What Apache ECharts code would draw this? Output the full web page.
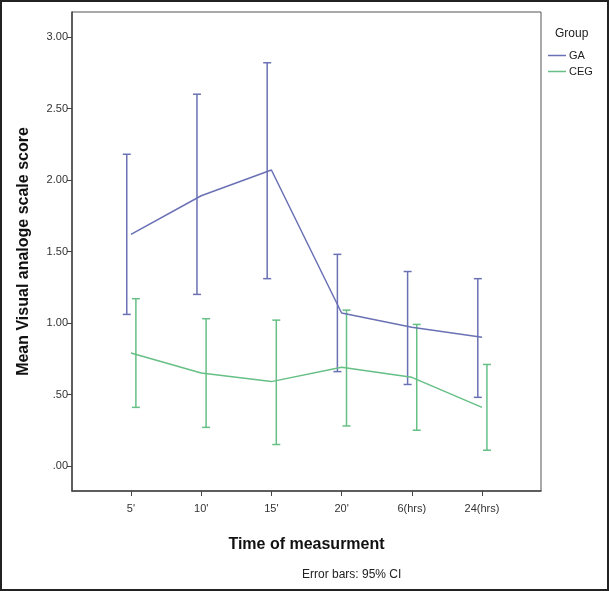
<!DOCTYPE html>
<html>
<head>
<meta charset="utf-8">
<script src="https://cdn.jsdelivr.net/npm/echarts@6/dist/echarts.min.js"></script>
<style>html,body{margin:0;padding:0;background:#fff}#c{width:609px;height:591px}</style>
</head>
<body>
<div id="c"></div>
<script>
const categories = ["5'", "10'", "15'", "20'", "6(hrs)", "24(hrs)"];
const gaMean = [1.62, 1.89, 2.07, 1.07, 0.97, 0.90];
const gaLow  = [1.06, 1.20, 1.31, 0.66, 0.57, 0.48];
const gaHigh = [2.18, 2.60, 2.82, 1.48, 1.36, 1.31];
const cegMean = [0.79, 0.65, 0.59, 0.69, 0.62, 0.41];
const cegLow  = [0.41, 0.27, 0.15, 0.28, 0.25, 0.11];
const cegHigh = [1.17, 1.03, 1.02, 1.09, 0.99, 0.71];
const yTicks = [0, 0.5, 1, 1.5, 2, 2.5, 3];

const GA_COLOR = '#6a71b4';
const CEG_COLOR = '#66bf85';
const FONT = 'Liberation Sans';
const idx = categories.map((c, i) => i);

function errSeries(name, low, high, color, dodge) {
  return {
    name: name, type: 'custom', silent: true, z: 3,
    data: idx.map(i => [i + dodge, low[i], high[i]]),
    renderItem: function (params, api) {
      const x = api.value(0);
      const p1 = api.coord([x, api.value(1)]);
      const p2 = api.coord([x, api.value(2)]);
      const hw = 4;
      const st = { stroke: color, lineWidth: 1.5 };
      return { type: 'group', children: [
        { type: 'line', shape: { x1: p1[0], y1: p1[1], x2: p2[0], y2: p2[1] }, style: st },
        { type: 'line', shape: { x1: p1[0] - hw, y1: p1[1], x2: p1[0] + hw, y2: p1[1] }, style: st },
        { type: 'line', shape: { x1: p2[0] - hw, y1: p2[1], x2: p2[0] + hw, y2: p2[1] }, style: st }
      ]};
    }
  };
}

const chart = echarts.init(document.getElementById('c'), null, { renderer: 'canvas' });
chart.setOption({
  animation: false,
  backgroundColor: '#fff',
  textStyle: { fontFamily: FONT },
  grid: { left: 72, top: 12, right: 68, bottom: 100, show: true, borderColor: '#555', borderWidth: 1 },
  title: [
    { text: 'Group', left: 550, top: 23, textStyle: { fontFamily: FONT, fontSize: 12, fontWeight: 'normal', color: '#222' } },
    { text: 'Error bars: 95% CI', left: 297, top: 564, textStyle: { fontFamily: FONT, fontSize: 12, fontWeight: 'normal', color: '#222' } }
  ],
  legend: {
    orient: 'vertical', left: 543, top: 45, itemWidth: 18, itemHeight: 1.5, itemGap: 5,
    icon: 'rect',
    textStyle: { fontFamily: FONT, fontSize: 11, color: '#222', padding: [0, 0, 0, -2] },
    data: [{ name: 'GA' }, { name: 'CEG' }]
  },
  xAxis: {
    type: 'value', min: -0.84, max: 5.84,
    name: 'Time of measurment', nameLocation: 'middle', nameGap: 46,
    nameTextStyle: { fontFamily: FONT, fontSize: 16, fontWeight: 'bold', color: '#111' },
    axisLine: { show: true, onZero: false, lineStyle: { color: '#444', width: 1.5 } },
    axisTick: { show: true, length: 5, lineStyle: { color: '#444' }, customValues: idx },
    axisLabel: { color: '#333', fontSize: 11, margin: 12, customValues: idx, formatter: v => categories[Math.round(v)] },
    splitLine: { show: false }
  },
  yAxis: {
    type: 'value', min: -0.175, max: 3.175,
    name: 'Mean Visual analoge scale score', nameLocation: 'middle', nameGap: 40,
    nameTextStyle: { fontFamily: FONT, fontSize: 16, fontWeight: 'bold', color: '#111' },
    axisLine: { show: true, onZero: false, lineStyle: { color: '#444', width: 1.5 } },
    axisTick: { show: true, length: 5, lineStyle: { color: '#444' }, customValues: yTicks },
    axisLabel: { color: '#333', fontSize: 11, margin: 4, customValues: yTicks, formatter: v => v.toFixed(2).replace(/^0/, '') },
    splitLine: { show: false }
  },
  series: [
    { name: 'GA', type: 'line', symbol: 'none', z: 4, data: idx.map(i => [i, gaMean[i]]), lineStyle: { color: GA_COLOR, width: 1.5 }, itemStyle: { color: GA_COLOR } },
    { name: 'CEG', type: 'line', symbol: 'none', z: 4, data: idx.map(i => [i, cegMean[i]]), lineStyle: { color: CEG_COLOR, width: 1.5 }, itemStyle: { color: CEG_COLOR } },
    errSeries('GA', gaLow, gaHigh, GA_COLOR, -0.06),
    errSeries('CEG', cegLow, cegHigh, CEG_COLOR, 0.07)
  ],
  graphic: [
    { type: 'rect', shape: { x: 1, y: 1, width: 607, height: 589 }, style: { fill: 'none', stroke: '#222', lineWidth: 2 }, silent: true }
  ]
});
</script>
</body>
</html>
